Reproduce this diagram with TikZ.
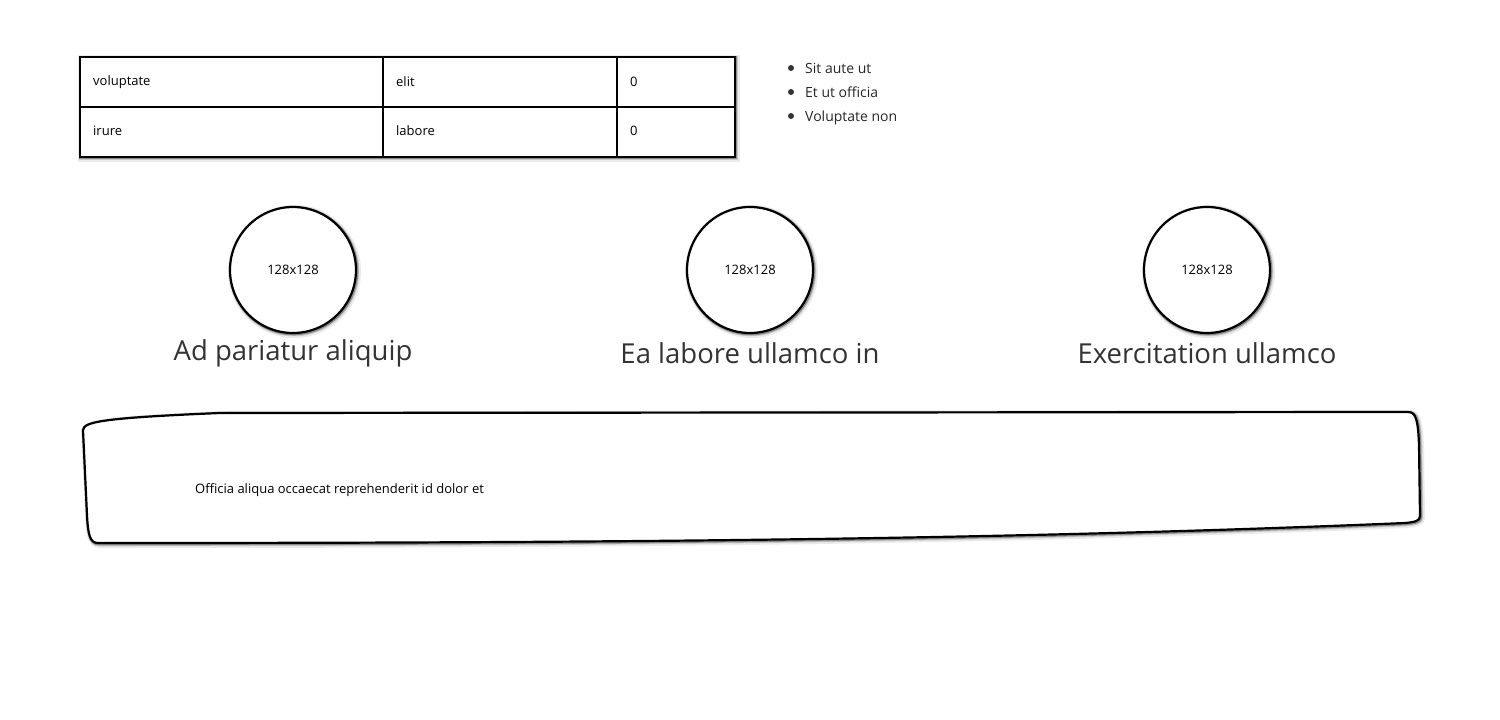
\documentclass[tikz,border=0pt]{standalone}
\usepackage{fontspec}
\setmainfont{Open Sans}
\begin{document}
\begin{tikzpicture}[x=1pt,y=-1pt,
  shad/.style={
    preaction={draw=black,draw opacity=0.08,line width=7pt,transform canvas={shift={(1.5pt,-1.5pt)}}},
    preaction={draw=black,draw opacity=0.15,line width=4.5pt,transform canvas={shift={(1pt,-1pt)}}},
    preaction={draw=black,draw opacity=0.3,line width=3pt,transform canvas={shift={(0.8pt,-0.8pt)}}}},
  outline/.style={draw=black,line width=2.2pt,fill=white},
  celltext/.style={anchor=west,inner sep=0pt,font=\fontsize{13}{15}\selectfont},
  listtext/.style={anchor=west,inner sep=0pt,font=\fontsize{14}{16}\selectfont,text=black!85},
  circ/.style={circle,draw=black,line width=2.2pt,fill=white,minimum size=126pt,inner sep=0pt,font=\fontsize{13}{15}\selectfont,shad},
  title/.style={inner sep=0pt,font=\fontsize{27.5}{32}\selectfont,text=black!80}]
\useasboundingbox (0,0) rectangle (1500,720);
% table
\path[outline,shad] (80,57) rectangle (735,157);
\draw[line width=2.2pt] (80,107) -- (735,107);
\draw[line width=2.2pt] (383,57) -- (383,157);
\draw[line width=2.2pt] (617,57) -- (617,157);
\node[celltext] (c11) at (93,82) {voluptate};
\node[celltext] (c12) at (396,82) {elit};
\node[celltext] (c13) at (630,82) {0};
\node[celltext] (c21) at (93,131) {irure};
\node[celltext] (c22) at (396,131) {labore};
\node[celltext] (c23) at (630,131) {0};
% list
\foreach \t/\y/\n in {Sit aute ut/68/l1, Et ut officia/92/l2, Voluptate non/116/l3}{
  \fill[black!80] (791,\y) circle (3pt);
  \node[listtext,anchor=base west] (\n) at (805,\y+5) {\t};
}
% circles
\node[circ] (p1) at (293,270) {128x128};
\node[circ] (p2) at (750,270) {128x128};
\node[circ] (p3) at (1207,270) {128x128};
\node[title] (t1) at (293,353) {Ad pariatur aliquip};
\node[title] (t2) at (750,353) {Ea labore ullamco in};
\node[title] (t3) at (1207,353) {Exercitation ullamco};
% bottom box
\path[outline,shad] (83,430) .. controls (84,422) and (100,418) .. (220,413)
  -- (1408,412) .. controls (1416,412) and (1418,420) .. (1419,445)
  -- (1420,516) .. controls (1420,521) and (1415,522) .. (1405,523)
  .. controls (1000,540) and (600,543) .. (98,543)
  .. controls (90,543) and (88,535) .. (87,515) -- cycle;
\node[celltext] (bt) at (195,490) {Officia aliqua occaecat reprehenderit id dolor et};
\end{tikzpicture}
\end{document}
